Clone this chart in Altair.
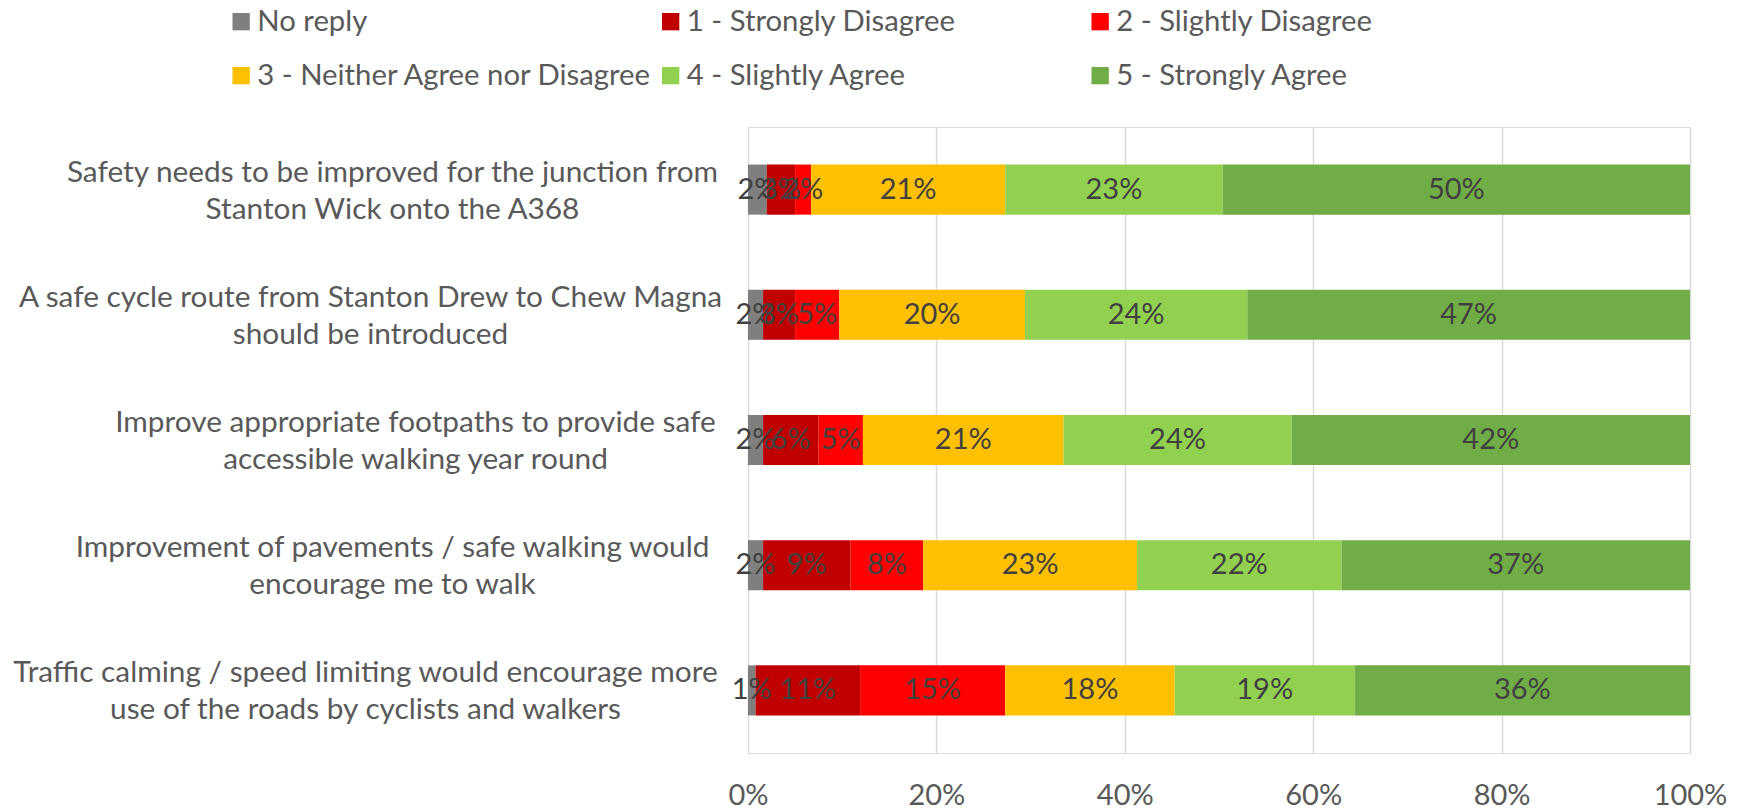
import altair as alt
import pandas as pd

# ---- data ----
questions = [
    ["Safety needs to be improved for the junction from", "Stanton Wick onto the A368"],
    ["A safe cycle route from Stanton Drew to Chew Magna", "should be introduced"],
    ["Improve appropriate footpaths to provide safe", "accessible walking year round"],
    ["Improvement of pavements / safe walking would", "encourage me to walk"],
    ["Traffic calming / speed limiting would encourage more", "use of the roads by cyclists and walkers"],
]
series = [
    "No reply",
    "1 - Strongly Disagree",
    "2 - Slightly Disagree",
    "3 - Neither Agree nor Disagree",
    "4 - Slightly Agree",
    "5 - Strongly Agree",
]
no_reply = [2.0, 1.6, 1.6, 1.6, 0.8]
strongly_disagree = [3.0, 3.4, 5.9, 9.3, 11.1]
slightly_disagree = [1.7, 4.7, 4.7, 7.7, 15.4]
neither = [20.6, 19.7, 21.3, 22.7, 18.0]
slightly_agree = [23.1, 23.6, 24.2, 21.7, 19.1]
strongly_agree = [49.6, 47.0, 42.3, 37.0, 35.6]
x_ticks = [0, 20, 40, 60, 80, 100]

# ---- styles ----
colors = ["#7F7F7F", "#C00000", "#FF0000", "#FFC000", "#92D050", "#70AD47"]
label_pad = [356, 378, 333, 356, 383]  # centre of each wrapped label block from the axis
FONT = "Lato"
FS = 29

values = [no_reply, strongly_disagree, slightly_disagree, neither, slightly_agree, strongly_agree]
q_keys = ["|".join(q) for q in questions]
rows = []
for qi, qk in enumerate(q_keys):
    for si, s in enumerate(series):
        rows.append({"q": qk, "s": s, "k": si, "v": values[si][qi]})
df = pd.DataFrame(rows)

pad_cond = {
    "condition": [{"test": f"datum.value === '{qk}'", "value": p} for qk, p in zip(q_keys, label_pad)],
    "value": label_pad[0],
}

y_enc = alt.Y(
    "q:N",
    sort=q_keys,
    scale=alt.Scale(paddingInner=0.6, paddingOuter=0.3),
    axis=alt.Axis(
        title=None,
        labelExpr="split(datum.label, '|')",
        labelAlign="center",
        labelBaseline="middle",
        labelLineHeight=37,
        labelOffset=-17,
        labelFont=FONT,
        labelFontSize=29.8,
        labelColor="#595959",
        labelLimit=1000,
        labelPadding=pad_cond,
        ticks=False,
        domain=False,
        grid=False,
    ),
)

x_scale = alt.Scale(domain=[0, 100], nice=False)

bars = alt.Chart(df).mark_bar().encode(
    x=alt.X(
        "v:Q",
        stack="zero",
        scale=x_scale,
        axis=alt.Axis(
            title=None,
            values=x_ticks,
            labelExpr="datum.value + '%'",
            labelFont=FONT,
            labelFontSize=FS,
            labelColor="#595959",
            labelPadding=28,
            labelFlush=False,
            ticks=False,
            domain=False,
            grid=True,
            gridColor="#D9D9D9",
            gridWidth=1.5,
        ),
    ),
    y=y_enc,
    color=alt.Color(
        "s:N",
        scale=alt.Scale(domain=series, range=colors),
        legend=alt.Legend(
            title=None,
            orient="none",
            legendX=-521.5,
            legendY=-120,
            direction="horizontal",
            columns=3,
            gridAlign="all",
            symbolType="square",
            symbolSize=300,
            symbolStrokeWidth=0,
            labelFont=FONT,
            labelFontSize=29.3,
            labelColor="#595959",
            labelOffset=1.5,
            labelLimit=800,
            columnPadding=3.5,
            rowPadding=24,
            padding=0,
        ),
    ),
    order=alt.Order("k:Q", sort="ascending"),
)

text = (
    alt.Chart(df)
    .transform_stack(stack="v", groupby=["q"], as_=["v0", "v1"], sort=[alt.SortField("k", order="ascending")])
    .transform_calculate(mid="(datum.v0 + datum.v1) / 2", lab="format(datum.v, '.0f') + '%'")
    .mark_text(font=FONT, fontSize=FS, color="#404040", align="center", baseline="middle")
    .encode(x=alt.X("mid:Q", scale=x_scale), y=alt.Y("q:N", sort=q_keys), text="lab:N")
)

chart = (
    alt.layer(bars, text)
    .properties(
        width=942,
        height=626,
        autosize=alt.AutoSizeParams(type="none"),
        padding={"left": 740, "top": 119, "right": 46, "bottom": 70},
    )
    .configure_view(stroke=None)
    .configure(background="white")
)

chart.save("out.html", embed_options={"renderer": "svg", "actions": False})
